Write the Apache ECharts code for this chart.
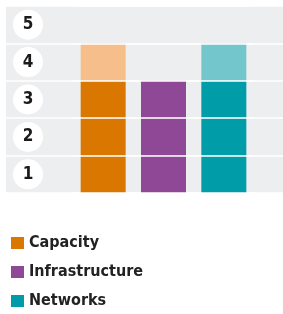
<!DOCTYPE html>
<html>
<head>
<meta charset="utf-8">
<script src="https://cdn.jsdelivr.net/npm/echarts@6/dist/echarts.min.js"></script>
<style>
  html, body { margin: 0; padding: 0; background: #fff; }
  #chart { width: 283px; height: 314px; }
</style>
</head>
<body>
<div id="chart"></div>
<script>
// scores per area: solid = current level, light = planned level
const categories = ['Capacity', 'Infrastructure', 'Networks'];
const currentLevel = [3, 3, 3];
const targetLevel = [4, 3, 4];
const levelLabels = ['1', '2', '3', '4', '5'];

const solidColors = ['#D97700', '#8E4895', '#009DA8'];
const lightColors = ['#F5BE8A', '#8E4895', '#72C6CC'];
const FONT = '"Liberation Sans Narrow", "DejaVu Sans Condensed", sans-serif';

// one stacked unit cell per level, so each cell keeps its own colour
const series = [];
categories.forEach((name, i) => {
  for (let k = 1; k <= targetLevel[i]; k++) {
    series.push({
      name: name,
      type: 'bar',
      stack: 'levels',
      xAxisIndex: 1,
      yAxisIndex: 1,
      barWidth: 45,
      silent: true,
      itemStyle: { color: k <= currentLevel[i] ? solidColors[i] : lightColors[i] },
      data: categories.map((c, j) => (j === i ? 1 : '-'))
    });
  }
});

const chart = echarts.init(document.getElementById('chart'));
chart.setOption({
  animation: false,
  grid: [
    { left: 6, right: 0, top: 6, bottom: 121, show: true, backgroundColor: '#EDEEF0', borderWidth: 0 },
    { left: 73, right: 29, top: 6, bottom: 121 }
  ],
  xAxis: [
    { gridIndex: 0, type: 'value', min: 0, max: 1, show: false },
    { gridIndex: 1, type: 'category', data: categories, show: false }
  ],
  yAxis: [
    {
      gridIndex: 0,
      type: 'category',
      data: levelLabels,
      axisLine: { show: false },
      axisTick: { show: false },
      splitLine: { show: true, lineStyle: { color: '#fff', width: 1.5 } },
      axisLabel: {
        inside: true,
        margin: 7,
        formatter: v => '{c|' + v + '}',
        rich: {
          c: {
            width: 30, height: 30, lineHeight: 30, align: 'center',
            backgroundColor: '#fff', borderRadius: 15,
            fontFamily: FONT, fontWeight: 'bold', fontSize: 17, color: '#1a1a1a'
          }
        }
      }
    },
    {
      gridIndex: 1,
      type: 'value',
      min: 0,
      max: 5,
      interval: 1,
      z: 5,
      axisLine: { show: false },
      axisTick: { show: false },
      axisLabel: { show: false },
      splitLine: { show: true, lineStyle: { color: '#fff', width: 1.5 } }
    }
  ],
  legend: {
    orient: 'vertical',
    left: 6,
    top: 230,
    height: 84,
    itemWidth: 13,
    itemHeight: 12,
    itemGap: 13,
    icon: 'rect',
    selectedMode: false,
    data: categories,
    textStyle: { fontFamily: FONT, fontWeight: 'bold', fontSize: 16, color: '#222' }
  },
  series: series
});
</script>
</body>
</html>
